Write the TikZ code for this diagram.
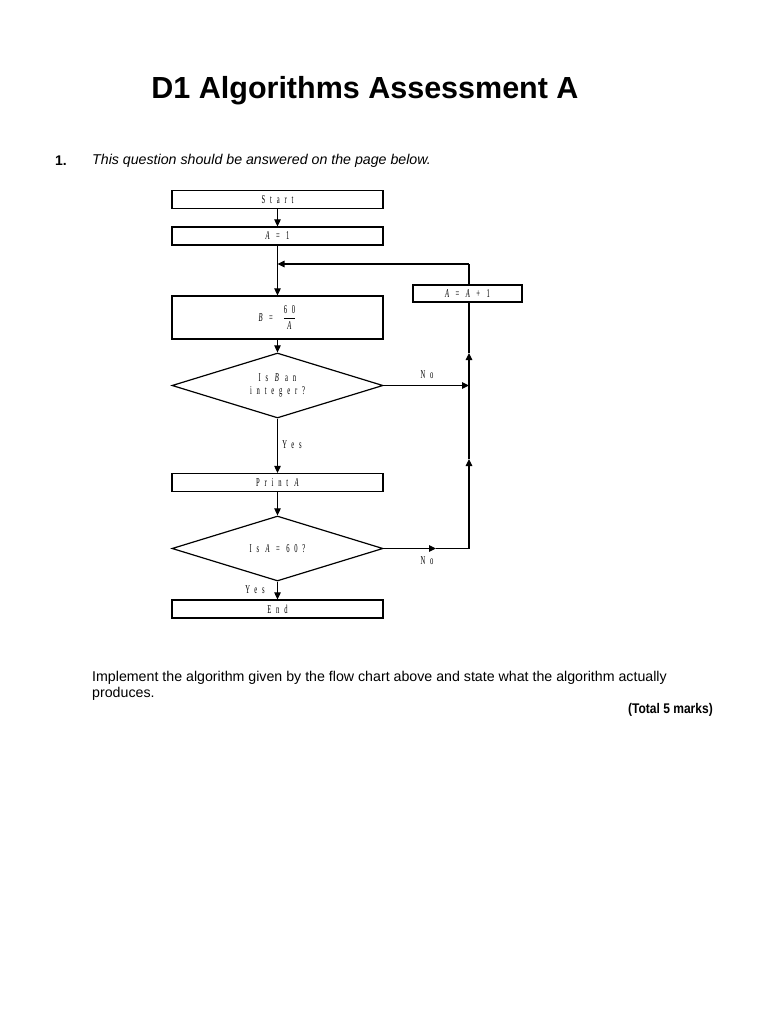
\documentclass[tikz,border=0pt]{standalone}
\usepackage{fontspec}
\setmainfont{Liberation Sans}
\newfontfamily\flowfont[LetterSpace=40,FakeStretch=0.55]{Liberation Serif}
\newfontfamily\narrowbold[FakeStretch=0.86]{Liberation Sans Bold}
\usetikzlibrary{shapes.geometric,arrows.meta}
\begin{document}
\begin{tikzpicture}[x=1pt,y=-1pt,
  box/.style={draw,line width=1.2pt,rectangle,minimum width=211pt,minimum height=18pt,inner sep=0pt,font=\flowfont\fontsize{12}{13}\selectfont},
  dia/.style={draw,line width=1.2pt,diamond,aspect=3.2,minimum width=211pt,minimum height=65pt,inner sep=0pt,align=center,font=\flowfont\fontsize{12}{13}\selectfont},
  lab/.style={font=\flowfont\fontsize{12}{13}\selectfont},
  conn/.style={line width=1.1pt},
  arr/.style={line width=1.1pt,-{Triangle[length=7pt,width=6.5pt]}},
  body/.style={font=\fontsize{14.2}{16}\selectfont,inner sep=0pt}]
\useasboundingbox (0,0) rectangle (768,1024);
\fill[white] (0,0) rectangle (768,1024);

\node[font=\fontsize{30.5}{34}\selectfont\bfseries] (title) at (365,91) {D1 Algorithms Assessment A};
\node[body,anchor=west,font=\fontsize{14}{16}\selectfont\bfseries] (qnum) at (55,161) {1.};
\node[body,anchor=west,font=\fontsize{14.2}{16}\selectfont\itshape] (qtext) at (92,161) {This question should be answered on the page below.};

\node[box] (start) at (277.5,199.5) {Start};
\node[box] (a1) at (277.5,236) {{\itshape A} = 1};
\node[box,minimum height=43pt] (b) at (277.5,317.5) {{\itshape B} =\; $\displaystyle\frac{\mbox{60}}{\mbox{\itshape A}}$};
\node[dia] (d1) at (277.5,385.5) {Is {\itshape B} an\\integer?};
\node[box] (print) at (277.5,482.5) {Print {\itshape A}};
\node[dia] (d2) at (277.5,548.5) {Is {\itshape A} = 60?};
\node[box] (end) at (277.5,609) {End};
\node[box,minimum width=109pt,minimum height=17pt] (ainc) at (467.5,293.5) {{\itshape A} = {\itshape A} + 1};

\coordinate (j1) at (277.5,264);
\coordinate (top) at (469,264);
\coordinate (c1) at (469,385.5);
\coordinate (c2) at (469,548.5);
\coordinate (m1) at (469,353);
\coordinate (m2) at (469,459);
\coordinate (k2) at (436,548.5);

\draw[arr] (start) -- (a1);
\draw[arr] (a1) -- (b);
\draw[arr] (b) -- (d1);
\draw[arr] (d1) -- (print);
\draw[arr] (print) -- (d2);
\draw[arr] (d2) -- (end);
\draw[conn] (ainc.north -| top) -- (top);
\draw[arr] (top) -- (j1);
\draw[arr] (d1.east) -- (c1);
\draw[arr] (d2.east) -- (k2);
\draw[conn] (k2) -- (c2);
\draw[arr] (c2) -- (m2);
\draw[conn] (m2) -- (c1);
\draw[arr] (c1) -- (m1);
\draw[conn] (m1) -- (ainc.south -| top);

\node[lab] (no1) at (427,375) {No};
\node[lab] (yes1) at (292,445) {Yes};
\node[lab] (no2) at (427,561) {No};
\node[lab] (yes2) at (255,590) {Yes};

\node[body,anchor=west] (impl1) at (92,678) {Implement the algorithm given by the flow chart above and state what the algorithm actually};
\node[body,anchor=west] (impl2) at (92,694) {produces.};
\node[body,anchor=east,font=\narrowbold\fontsize{14}{16}\selectfont] (marks) at (713,710) {(Total 5 marks)};
\end{tikzpicture}
\end{document}
